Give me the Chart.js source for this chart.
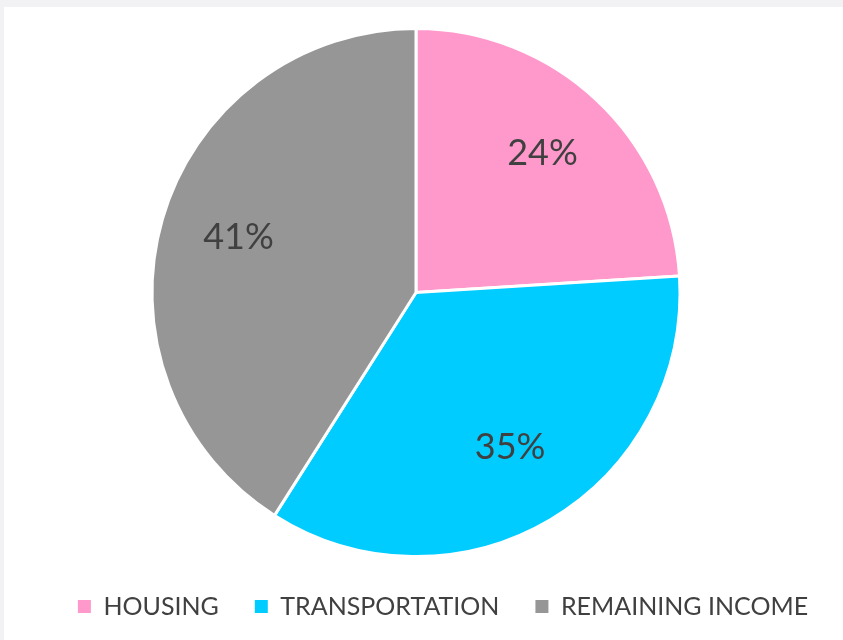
<!DOCTYPE html>
<html>
<head>
<meta charset="utf-8">
<script src="https://cdn.jsdelivr.net/npm/chart.js@4.4.1/dist/chart.umd.min.js"></script>
<style>
  html, body { margin: 0; padding: 0; background: #f2f2f4; }
  #wrap { position: absolute; left: 4px; top: 7px; width: 839px; height: 633px; background: #ffffff; }
</style>
</head>
<body>
<div id="wrap"><canvas id="chart-pie"></canvas></div>
<script>
// ── Data ──────────────────────────────────────────────────────
const categories = ['HOUSING', 'TRANSPORTATION', 'REMAINING INCOME'];
const shares     = [24, 35, 41];
const colors     = ['#ff99cc', '#00ccff', '#969696'];

Chart.defaults.font.family = "Lato, 'Open Sans', sans-serif";
Chart.defaults.color = '#404040';

// percentage labels inside each slice
const sliceLabels = {
  id: 'sliceLabels',
  afterDatasetsDraw(chart) {
    const { ctx } = chart;
    const meta = chart.getDatasetMeta(0);
    const total = shares.reduce((a, b) => a + b, 0);
    ctx.save();
    ctx.font = "36px Lato, 'Open Sans', sans-serif";
    ctx.fillStyle = '#404040';
    ctx.textAlign = 'center';
    ctx.textBaseline = 'middle';
    meta.data.forEach((arc, i) => {
      const p = arc.getProps(['x', 'y', 'startAngle', 'endAngle', 'outerRadius'], true);
      const mid = (p.startAngle + p.endAngle) / 2;
      const r = p.outerRadius * 0.70;
      const pct = Math.round(shares[i] / total * 100) + '%';
      ctx.fillText(pct, p.x + Math.cos(mid) * r, p.y + Math.sin(mid) * r - 4);
    });
    ctx.restore();
  }
};

// nudge the legend row a bit right, like the original layout
const legendShift = {
  id: 'legendShift',
  beforeDraw(chart) {
    const lg = chart.legend;
    if (!lg || lg._shifted) return;
    lg.left += 27;
    lg.right += 27;
    lg._shifted = true;
  },
  afterLayout(chart) {
    if (chart.legend) chart.legend._shifted = false;
  }
};

new Chart(document.getElementById('chart-pie'), {
  type: 'pie',
  data: {
    labels: categories,
    datasets: [{
      data: shares,
      backgroundColor: colors,
      borderColor: '#ffffff',
      borderWidth: 3
    }]
  },
  options: {
    responsive: true,
    maintainAspectRatio: false,
    animation: false,
    layout: { padding: { top: 20, bottom: 11, left: 0, right: 15 } },
    plugins: {
      tooltip: { enabled: false },
      legend: {
        display: true,
        position: 'bottom',
        labels: {
          boxWidth: 13,
          boxHeight: 13,
          padding: 36,
          color: '#404040',
          font: { size: 25 },
          generateLabels(chart) {
            return Chart.overrides.pie.plugins.legend.labels.generateLabels(chart)
              .map(item => ({ ...item, lineWidth: 0, strokeStyle: 'rgba(0,0,0,0)' }));
          }
        }
      }
    }
  },
  plugins: [sliceLabels, legendShift]
});
</script>
</body>
</html>
